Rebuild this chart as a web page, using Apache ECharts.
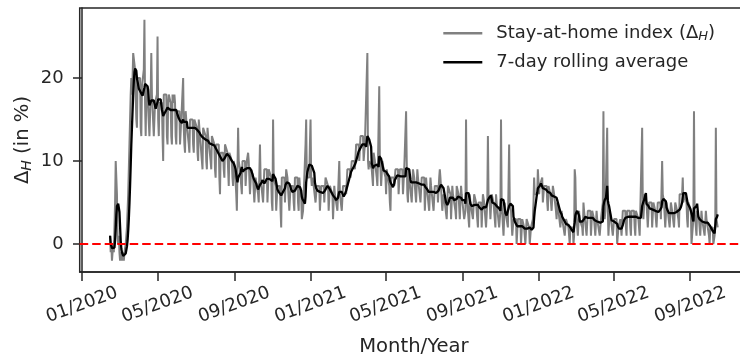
<!DOCTYPE html>
<html>
<head>
<meta charset="utf-8">
<script src="https://cdn.jsdelivr.net/npm/echarts@6/dist/echarts.min.js"></script>
<style>
  html, body { margin: 0; padding: 0; background: #ffffff; }
  #chart { width: 740px; height: 361px; }
</style>
</head>
<body>
<div id="chart"></div>
<script>
// Daily stay-at-home index (percent change of time at home), one row per week.
// Every row starts on a Saturday; the first day is 2020-02-15.
const seriesStart = '2020-02-15';

const stayHome2020a = [
  1, -1, 0, -2, -1, 0, -1,
  2, 5, 10, 10, 6, 1, 0,
  1, -1, -2, -2, -1, -2, -1,
  -1, -2, -1, -1, 0, 1, 2,
  4, 6, 9, 12, 15, 18, 20,
  18, 20, 23, 23, 23, 21, 21,
  15, 14, 20, 20, 20, 20, 20,
  14, 13, 19, 19, 19, 21, 27,
  17, 13, 18, 19, 18, 18, 18,
  13, 13, 18, 23, 18, 18, 18,
  13, 13, 17, 17, 17, 18, 25,
  15, 13, 17, 17, 17, 17, 17,
  13, 10, 18, 18, 18, 18, 18,
  13, 12, 17, 18, 18, 18, 17,
  13, 12, 18, 18, 17, 18, 17,
  13, 12, 16, 16, 16, 16, 16,
  12, 12, 15, 15, 15, 20, 14,
  12, 11, 16, 15, 15, 15, 15,
  12, 11, 15, 15, 15, 15, 15,
  12, 11, 15, 15, 15, 15, 14
];

const stayHome2020b = [
  11, 10, 15, 14, 14, 14, 14,
  10, 9, 14, 14, 14, 14, 13,
  10, 9, 14, 13, 13, 13, 13,
  10, 9, 13, 13, 13, 13, 12,
  9, 8, 12, 12, 12, 12, 12,
  8, 6, 11, 11, 11, 11, 11,
  9, 8, 12, 12, 12, 12, 11,
  9, 7, 11, 11, 11, 11, 10,
  8, 7, 10, 10, 9, 9, 6,
  4, 4, 14, 10, 10, 9, 9,
  7, 6, 10, 10, 10, 10, 10,
  7, 7, 10, 10, 11, 10, 10,
  6, 6, 9, 9, 9, 8, 8,
  5, 5, 8, 8, 7, 7, 6,
  5, 5, 12, 8, 8, 8, 8,
  5, 5, 9, 9, 9, 9, 9,
  5, 5, 9, 9, 9, 9, 8,
  5, 4, 15, 8, 8, 8, 7,
  4, 4, 7, 7, 7, 7, 7,
  4, 2, 8, 8, 8, 8, 8,
  5, 5, 9, 9, 8, 8, 8,
  4, 4, 7, 7, 7, 7, 7,
  5, 4, 8, 8, 8, 8, 8,
  5, 4, 8, 7, 7, 6, 3,
  3, 4, 6, 6, 6, 12, 15,
  8, 8, 8, 8, 8, 12, 15
];

const stayHome2021a = [
  8, 7, 8, 8, 7, 7, 7,
  5, 5, 7, 7, 7, 7, 7,
  4, 4, 7, 7, 7, 7, 7,
  5, 5, 8, 8, 8, 8, 7,
  4, 4, 7, 7, 7, 7, 6,
  3, 3, 7, 6, 6, 6, 6,
  4, 4, 8, 10, 6, 6, 6,
  4, 4, 7, 7, 7, 7, 7,
  6, 6, 9, 9, 9, 9, 9,
  8, 8, 10, 10, 10, 10, 10,
  9, 9, 12, 12, 12, 12, 12,
  10, 10, 13, 13, 13, 13, 13,
  10, 10, 12, 12, 12, 12, 23,
  10, 9, 10, 10, 10, 10, 9,
  8, 7, 11, 11, 10, 10, 10,
  8, 7, 10, 10, 19, 10, 9,
  7, 7, 10, 10, 9, 9, 9,
  8, 6, 9, 9, 9, 9, 7,
  5, 4, 8, 8, 8, 8, 8,
  7, 7, 9, 9, 9, 9, 9,
  6, 6, 9, 9, 9, 9, 9,
  6, 6, 9, 9, 9, 16, 10,
  6, 5, 9, 8, 8, 8, 8,
  5, 5, 9, 9, 8, 8, 8,
  5, 5, 9, 8, 8, 8, 8,
  5, 5, 8, 8, 8, 8, 8
];

const stayHome2021b = [
  4, 4, 8, 7, 7, 7, 7,
  4, 4, 8, 7, 7, 7, 7,
  4, 4, 7, 7, 7, 7, 7,
  5, 5, 8, 9, 8, 8, 8,
  4, 4, 6, 6, 5, 5, 5,
  3, 3, 7, 7, 7, 7, 6,
  3, 3, 7, 6, 6, 6, 6,
  4, 3, 7, 7, 7, 6, 6,
  3, 3, 7, 6, 6, 6, 6,
  3, 3, 4, 15, 6, 6, 6,
  3, 2, 6, 5, 5, 5, 5,
  3, 3, 6, 6, 6, 5, 5,
  3, 2, 5, 5, 5, 5, 5,
  2, 2, 6, 6, 5, 5, 5,
  2, 2, 5, 13, 6, 6, 5,
  3, 3, 6, 6, 6, 5, 5,
  3, 2, 6, 5, 5, 5, 5,
  2, 2, 4, 15, 5, 5, 5,
  1, 1, 5, 4, 4, 4, 4,
  2, 2, 12, 5, 5, 4, 4,
  1, 1, 3, 3, 3, 3, 3,
  0, 0, 3, 3, 3, 3, 3,
  0, 0, 3, 3, 3, 2, 2,
  0, 0, 3, 3, 3, 3, 2,
  0, 0, 2, 2, 2, 3, 5,
  8, 6, 6, 6, 6, 6, 9
];

const stayHome2022 = [
  9, 6, 7, 7, 7, 7, 8,
  5, 5, 7, 7, 7, 7, 7,
  5, 4, 7, 7, 7, 6, 6,
  4, 4, 7, 7, 6, 6, 6,
  4, 3, 5, 5, 4, 4, 4,
  2, 2, 4, 3, 3, 3, 3,
  1, 1, 3, 3, 3, 3, 2,
  1, 0, 2, 2, 2, 2, 2,
  0, 1, 9, 8, 4, 3, 3,
  1, 1, 4, 3, 3, 3, 3,
  2, 1, 5, 4, 4, 4, 4,
  1, 1, 4, 4, 4, 4, 4,
  1, 1, 4, 4, 4, 3, 3,
  1, 1, 4, 3, 3, 3, 3,
  1, 1, 3, 3, 3, 5, 16,
  4, 3, 4, 4, 4, 14, 4,
  1, 1, 4, 4, 3, 3, 3,
  1, 2, 3, 3, 3, 3, 3,
  0, 0, 2, 2, 2, 3, 3,
  1, 1, 4, 4, 4, 4, 4,
  2, 1, 4, 4, 4, 4, 4,
  2, 1, 4, 4, 4, 4, 4,
  2, 1, 4, 4, 4, 4, 3,
  2, 1, 4, 4, 4, 14, 5,
  3, 3, 6, 6, 6, 5, 5,
  2, 2, 5, 5, 5, 5, 5,
  2, 2, 5, 5, 5, 4, 4,
  2, 2, 5, 5, 5, 5, 5,
  3, 3, 10, 6, 6, 5, 5,
  2, 2, 5, 5, 4, 4, 4,
  2, 2, 5, 5, 4, 4, 4,
  2, 2, 5, 5, 5, 4, 4,
  3, 2, 6, 6, 6, 6, 6,
  8, 5, 6, 6, 6, 6, 5,
  3, 2, 5, 5, 5, 5, 4,
  0, 0, 2, 3, 16, 4, 4,
  2, 1, 4, 4, 4, 3, 3,
  1, 1, 4, 3, 3, 3, 3,
  1, 1, 4, 3, 3, 3, 3,
  1, 0, 2, 2, 2, 2, 2,
  0, 0, 1, 2, 14, 3, 3,
  2
];

// Axis ticks
const tickDates = ['2020-01-01', '2020-05-01', '2020-09-01', '2021-01-01', '2021-05-01',
                   '2021-09-01', '2022-01-01', '2022-05-01', '2022-09-01'];
const tickLabels = ['01/2020', '05/2020', '09/2020', '01/2021', '05/2021',
                    '09/2021', '01/2022', '05/2022', '09/2022'];
const yTicks = [0, 10, 20];

const rawName = 'Stay-at-home index (ΔH)';
const avgName = '7-day rolling average';

// ---- build series (x = days since 2020-01-01) ----
const DAY = 86400000;
const EPOCH = Date.UTC(2020, 0, 1);
function dayIndex(iso) {
  const p = iso.split('-').map(Number);
  return Math.round((Date.UTC(p[0], p[1] - 1, p[2]) - EPOCH) / DAY);
}

const daily = [].concat(stayHome2020a, stayHome2020b, stayHome2021a, stayHome2021b, stayHome2022);
const first = dayIndex(seriesStart);
const last = first + daily.length - 1;
const rawPoints = daily.map((v, i) => [first + i, v]);
// trailing 7-day mean (shorter window at the very start)
const avgPoints = daily.map((v, i) => {
  const w = daily.slice(Math.max(0, i - 6), i + 1);
  return [first + i, w.reduce((a, b) => a + b, 0) / w.length];
});
const tickDays = tickDates.map(dayIndex);

// x range with 5% padding on each side of the data
const span = last - first;
const xMin = first - 0.05 * span;
const xMax = last + 0.05 * span;

const INK = '#262626';
const FONT = 'DejaVu Sans';

const chart = echarts.init(document.getElementById('chart'), null, { renderer: 'canvas' });
chart.setOption({
  animation: false,
  backgroundColor: '#ffffff',
  textStyle: { fontFamily: FONT },
  // the plot area runs a little past the right edge of the canvas
  grid: {
    left: 79.7, top: 8, width: 668.4, height: 264,
    outerBoundsMode: 'none',
    show: true, borderColor: INK, borderWidth: 1.5, backgroundColor: 'transparent'
  },
  legend: {
    orient: 'vertical',
    left: 443.3, top: 23.3, padding: 0,
    itemWidth: 39, itemHeight: 2.5, itemGap: 9,
    icon: 'rect',
    data: [rawName, avgName],
    formatter: function (name) {
      return name === rawName ? 'Stay-at-home index ({d|Δ}{h|H})' : name;
    },
    textStyle: {
      fontFamily: FONT, fontSize: 18, color: INK, lineHeight: 20, padding: [0, 0, 0, 9],
      rich: {
        d: { fontFamily: FONT, fontSize: 18, color: INK, lineHeight: 20 },
        h: { fontFamily: FONT, fontSize: 13, fontStyle: 'italic', color: INK, lineHeight: 20, verticalAlign: 'bottom' }
      }
    }
  },
  xAxis: {
    type: 'value',
    min: xMin, max: xMax,
    splitLine: { show: false },
    axisLine: { onZero: false, lineStyle: { color: INK, width: 1.5 } },
    axisTick: { customValues: tickDays, length: 9, lineStyle: { color: INK, width: 1.5 } },
    axisLabel: {
      customValues: tickDays,
      formatter: function (v) {
        const k = tickDays.indexOf(Math.round(v));
        return k >= 0 ? tickLabels[k] : '';
      },
      rotate: 20, align: 'center', verticalAlign: 'middle', margin: 33,
      fontFamily: FONT, fontSize: 18, color: INK
    },
    name: 'Month/Year',
    nameLocation: 'middle',
    nameGap: 65,
    nameMoveOverlap: false,
    nameTextStyle: { fontFamily: FONT, fontSize: 19.6, color: INK, verticalAlign: 'top' }
  },
  yAxis: {
    type: 'value',
    min: -3.37, max: 28.43,
    splitLine: { show: false },
    axisLine: { lineStyle: { color: INK, width: 1.5 } },
    axisTick: { customValues: yTicks, length: 9, lineStyle: { color: INK, width: 1.5 } },
    axisLabel: { customValues: yTicks, margin: 16, fontFamily: FONT, fontSize: 18, color: INK },
    name: '{d|Δ}{h|H}{d| (in %)}',
    nameLocation: 'middle',
    nameGap: 45,
    nameMoveOverlap: false,
    nameTextStyle: {
      color: INK,
      rich: {
        d: { fontFamily: FONT, fontSize: 19.6, color: INK, lineHeight: 23 },
        h: { fontFamily: FONT, fontSize: 14, fontStyle: 'italic', color: INK, lineHeight: 23, verticalAlign: 'bottom' }
      }
    }
  },
  series: [
    {
      name: rawName, type: 'line', data: rawPoints,
      showSymbol: false, symbol: 'none', z: 2,
      color: '#808080',
      lineStyle: { color: '#808080', width: 2 }
    },
    {
      name: avgName, type: 'line', data: avgPoints,
      showSymbol: false, symbol: 'none', z: 3,
      color: '#000000',
      lineStyle: { color: '#000000', width: 2.3 }
    },
    {
      name: 'zero', type: 'line', data: [], z: 4,
      markLine: {
        silent: true, symbol: ['none', 'none'], animation: false,
        label: { show: false },
        lineStyle: { color: '#ff0000', type: [8.5, 4], width: 2 },
        data: [{ yAxis: 0 }]
      }
    }
  ]
});
</script>
</body>
</html>
